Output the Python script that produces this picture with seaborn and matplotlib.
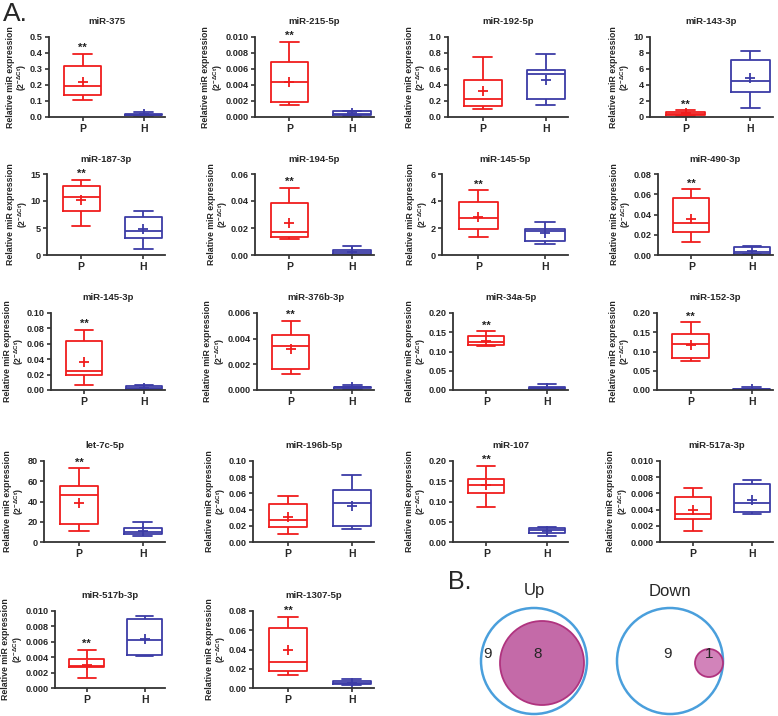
import numpy as np
import pandas as pd
import matplotlib
matplotlib.use("Agg")
import matplotlib.pyplot as plt
from matplotlib.patches import Circle
import seaborn as sns

sns.set_theme(style="ticks")
plt.rcParams["font.family"] = ["Liberation Sans", "DejaVu Sans"]
plt.rcParams["mathtext.fontset"] = "dejavusans"

RED = "#f01c1c"
BLUE = "#3c3ca6"
W, H = 778, 716

# Panel A data: five-number summary (min, q1, median, q3, max) + mean
mirnas = ["miR-375", "miR-215-5p", "miR-192-5p", "miR-143-3p",
          "miR-187-3p", "miR-194-5p", "miR-145-5p", "miR-490-3p",
          "miR-145-3p", "miR-376b-3p", "miR-34a-5p", "miR-152-3p",
          "let-7c-5p", "miR-196b-5p", "miR-107", "miR-517a-3p",
          "miR-517b-3p", "miR-1307-5p"]
y_top = [0.5, 0.010, 1.0, 10, 15, 0.06, 6, 0.08, 0.10, 0.006, 0.20, 0.20,
         80, 0.10, 0.20, 0.010, 0.010, 0.08]
y_step = [0.1, 0.002, 0.2, 2, 5, 0.02, 2, 0.02, 0.02, 0.002, 0.05, 0.05,
          20, 0.02, 0.05, 0.002, 0.002, 0.02]
p_stats = [
    [0.105, 0.14, 0.195, 0.32, 0.395],
    [0.0015, 0.0019, 0.0044, 0.0069, 0.0094],
    [0.10, 0.14, 0.23, 0.46, 0.75],
    [0.1, 0.2, 0.4, 0.6, 0.85],
    [5.4, 8.1, 10.8, 12.8, 13.9],
    [0.0115, 0.013, 0.017, 0.0385, 0.050],
    [1.35, 1.9, 2.75, 3.9, 4.8],
    [0.013, 0.0225, 0.0315, 0.0565, 0.065],
    [0.007, 0.020, 0.025, 0.064, 0.078],
    [0.00125, 0.0016, 0.0034, 0.0043, 0.0054],
    [0.115, 0.118, 0.124, 0.139, 0.153],
    [0.076, 0.083, 0.12, 0.145, 0.176],
    [11, 17.5, 46, 55, 73],
    [0.010, 0.019, 0.027, 0.047, 0.057],
    [0.087, 0.122, 0.141, 0.155, 0.188],
    [0.0013, 0.0029, 0.0034, 0.0056, 0.0067],
    [0.0013, 0.0027, 0.0029, 0.0038, 0.0050],
    [0.0135, 0.018, 0.027, 0.062, 0.074],
]
h_stats = [
    [0.005, 0.01, 0.015, 0.02, 0.03],
    [0.0001, 0.0002, 0.0004, 0.0007, 0.0008],
    [0.15, 0.22, 0.54, 0.59, 0.79],
    [1.1, 3.1, 4.5, 7.1, 8.2],
    [1.1, 3.1, 4.5, 7.1, 8.1],
    [0.0003, 0.001, 0.002, 0.0035, 0.0065],
    [0.8, 1.05, 1.8, 1.9, 2.45],
    [0.0005, 0.001, 0.003, 0.008, 0.0085],
    [0.0005, 0.001, 0.003, 0.005, 0.007],
    [0.0001, 0.00015, 0.0002, 0.00025, 0.0004],
    [0.001, 0.002, 0.004, 0.009, 0.015],
    [0.0005, 0.001, 0.002, 0.003, 0.008],
    [5.5, 8, 10, 14, 20],
    [0.016, 0.020, 0.048, 0.064, 0.083],
    [0.016, 0.021, 0.030, 0.035, 0.037],
    [0.0035, 0.0037, 0.0048, 0.0071, 0.0076],
    [0.0042, 0.0043, 0.0062, 0.0089, 0.0093],
    [0.003, 0.004, 0.0055, 0.0075, 0.009],
]
p_mean = [0.22, 0.0044, 0.32, 0.45, 10.2, 0.0235, 2.82, 0.036, 0.037, 0.0032,
          0.128, 0.117, 39, 0.031, 0.140, 0.0040, 0.0030, 0.039]
h_mean = [0.017, 0.00045, 0.46, 4.85, 4.8, 0.0025, 1.6, 0.004, 0.003, 0.00022,
          0.006, 0.003, 10.5, 0.045, 0.028, 0.0052, 0.0064, 0.0055]
signif = [True, True, False, True, True, True, True, True, True, True, True,
          True, True, False, True, False, True, True]

# Panel B data
venn_titles = ["Up", "Down"]
only_counts = [9, 9]
shared_counts = [8, 1]

# layout (pixels)
row_top = [37, 174, 313, 461, 611]
row_bottom = [117, 255, 390, 542, 688]
col_right = [165, 374, 568, 773]
panel_left = [49, 255, 448, 650,
              47, 255, 442, 658,
              51, 257, 453, 657,
              44, 253, 453, 660,
              55, 253]

fig = plt.figure(figsize=(W / 100, H / 100), dpi=100)
fig.text(0.004, 0.997, "A.", fontsize=19, va="top", ha="left")

palette = {"P": RED, "H": BLUE}
box_axes = []
for i, name in enumerate(mirnas):
    r, c = divmod(i, 4)
    left, right = panel_left[i], col_right[c]
    ax = fig.add_axes([left / W, 1 - row_bottom[r] / H,
                       (right - left) / W, (row_bottom[r] - row_top[r]) / H])
    box_axes.append(ax)
    df = pd.DataFrame({"group": ["P"] * 5 + ["H"] * 5,
                       "value": p_stats[i] + h_stats[i]})
    sns.boxplot(data=df, x="group", y="value", hue="group", palette=palette,
                fill=False, whis=(0, 100), width=0.6, linewidth=1.3,
                legend=False, ax=ax)
    sns.pointplot(x=["P", "H"], y=[p_mean[i], h_mean[i]], hue=["P", "H"],
                  palette=palette, marker="+", linestyle="none",
                  errorbar=None, markersize=7, markeredgewidth=1.3,
                  legend=False, ax=ax)
    if signif[i]:
        ax.annotate("**", xy=(0, p_stats[i][-1]), xytext=(0, 0.5),
                    textcoords="offset points", ha="center", va="bottom",
                    fontsize=8, fontweight="bold", color="#222222")
    step = y_step[i]
    dec = max(0, int(np.ceil(-np.log10(step))))
    ticks = np.arange(0, y_top[i] + step / 2, step)
    ax.set_yticks(ticks)
    ax.set_yticklabels([f"{t:.{dec}f}" for t in ticks])
    ax.set_ylim(0, y_top[i])
    ax.set_xlim(-0.55, 1.35)
    ax.set_xlabel("")
    ax.set_ylabel("Relative miR expression\n(2$^{\\mathregular{-\\Delta Ct}}$)",
                  fontsize=6.3, fontweight="bold", linespacing=1.05)
    ax.set_title(name, fontsize=6.8, fontweight="bold", pad=9)
    sns.despine(ax=ax)
    for s in ["left", "bottom"]:
        ax.spines[s].set_linewidth(1.3)
        ax.spines[s].set_color("#333333")
    ax.tick_params(axis="y", width=1.2, length=3, labelsize=6.6, pad=1.5,
                   color="#333333")
    ax.tick_params(axis="x", width=1.2, length=3, labelsize=7.5, pad=2,
                   color="#333333")
    for lab in ax.get_xticklabels() + ax.get_yticklabels():
        lab.set_fontweight("bold")

# put each y label right next to its tick labels
fig.canvas.draw()
for ax in box_axes:
    bb = ax.get_window_extent()
    tick_x0 = min(t.get_window_extent().x0 for t in ax.get_yticklabels())
    ax.yaxis.set_label_coords((tick_x0 - 1.0 - bb.x0) / bb.width, 0.5)

# Panel B: Venn diagrams, axes in pixel units
vx0, vy0 = 430, 565
ax_v = fig.add_axes([vx0 / W, 0, (W - vx0) / W, (H - vy0) / H])
ax_v.set_xlim(vx0, W)
ax_v.set_ylim(H, vy0)
ax_v.axis("off")
outer_cx = [534, 670]
inner_cx = [542, 709]
inner_r = [42, 14]
inner_fill = ["#c46aa8", "#d283ba"]
for k, title in enumerate(venn_titles):
    ax_v.add_patch(Circle((outer_cx[k], 661), 53, fill=False,
                          edgecolor="#4a9fdc", lw=1.8))
    ax_v.add_patch(Circle((inner_cx[k], 663), inner_r[k],
                          facecolor=inner_fill[k], edgecolor="#b0337f", lw=1.3))
    ax_v.text(outer_cx[k], 591, title, fontsize=12, ha="center", va="center")
    only_x = 488 if k == 0 else 667
    ax_v.text(only_x, 654, str(only_counts[k]), fontsize=11,
              ha="center", va="center")
    ax_v.text(inner_cx[k] - 4 if k == 0 else inner_cx[k], 654,
              str(shared_counts[k]), fontsize=11, ha="center", va="center")
ax_v.text(448, 582, "B.", fontsize=18, ha="left", va="center")

fig.savefig("out.png", dpi=100)
